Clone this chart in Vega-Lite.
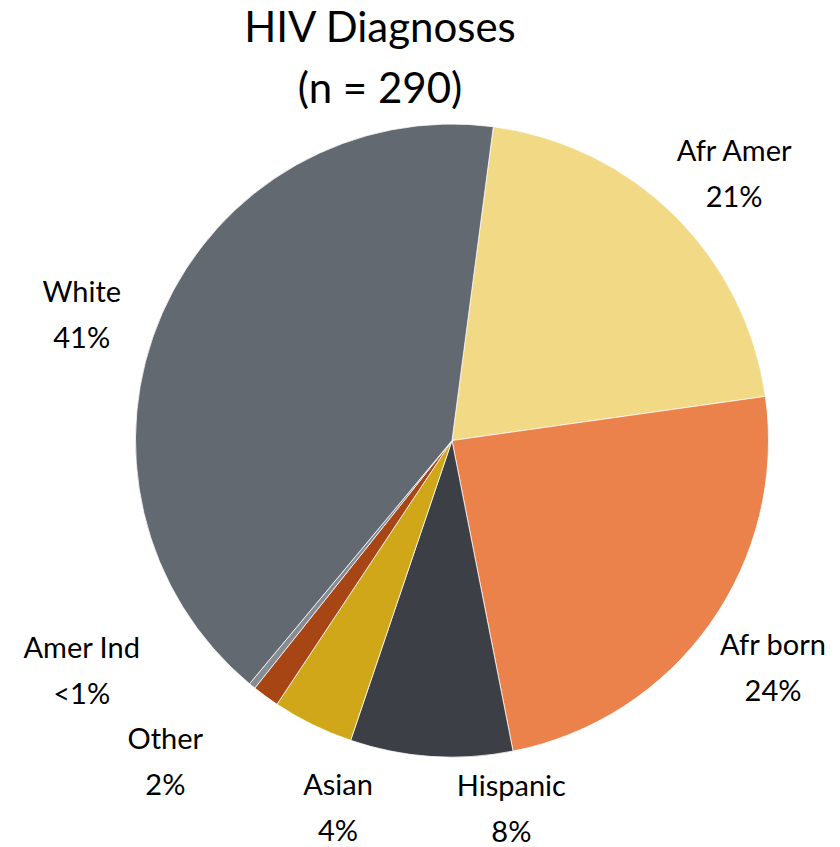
{
  "$schema": "https://vega.github.io/schema/vega-lite/v6.json",
  "autosize": "none",
  "width": 776,
  "height": 633,
  "padding": {"left": 64, "top": 124, "right": 0, "bottom": 90},
  "background": "#ffffff",
  "config": {"view": {"stroke": null}},
  "title": {
    "text": ["HIV Diagnoses", "(n = 290)"],
    "font": "Lato",
    "fontSize": 42,
    "fontWeight": "normal",
    "lineHeight": 61,
    "color": "#000000",
    "anchor": "middle",
    "dx": -72,
    "dy": 129
  },
  "data": {
    "values": [
      {"cat": "Afr Amer", "n": 60, "pct": "21%", "idx": 1},
      {"cat": "Afr born", "n": 70, "pct": "24%", "idx": 2},
      {"cat": "Hispanic", "n": 24, "pct": "8%", "idx": 3},
      {"cat": "Asian", "n": 12, "pct": "4%", "idx": 4},
      {"cat": "Other", "n": 4, "pct": "2%", "idx": 5},
      {"cat": "Amer Ind", "n": 1, "pct": "<1%", "idx": 6},
      {"cat": "White", "n": 119, "pct": "41%", "idx": 7}
    ]
  },
  "transform": [{"calculate": "datum.cat + '\\n' + datum.pct", "as": "label"}],
  "encoding": {
    "theta": {"field": "n", "type": "quantitative", "stack": true, "scale": {"range": [0.1309, 6.4141]}},
    "order": {"field": "idx", "type": "quantitative"}
  },
  "layer": [
    {
      "mark": {"type": "arc", "stroke": "#ffffff", "strokeWidth": 0.75},
      "encoding": {
        "color": {
          "field": "cat", "type": "nominal", "legend": null,
          "scale": {
            "domain": ["Afr Amer", "Afr born", "Hispanic", "Asian", "Other", "Amer Ind", "White"],
            "range": ["#F2D985", "#EC824B", "#3C3F45", "#CFA718", "#A84515", "#858C94", "#636970"]
          }
        }
      }
    },
    {
      "mark": {"type": "text", "radius": 388, "dx": 9, "dy": -13, "font": "Lato", "fontSize": 29, "lineHeight": 46, "lineBreak": "\n", "align": "center", "baseline": "middle", "color": "#000000"},
      "encoding": {"text": {"condition": {"test": "datum.cat === 'Afr Amer'", "field": "label"}, "value": ""}}
    },
    {
      "mark": {"type": "text", "radius": 394, "dx": 0, "dy": -23, "font": "Lato", "fontSize": 29, "lineHeight": 46, "lineBreak": "\n", "align": "center", "baseline": "middle", "color": "#000000"},
      "encoding": {"text": {"condition": {"test": "datum.cat === 'Afr born'", "field": "label"}, "value": ""}}
    },
    {
      "mark": {"type": "text", "radius": 374, "dx": 84, "dy": -27, "font": "Lato", "fontSize": 29, "lineHeight": 46, "lineBreak": "\n", "align": "center", "baseline": "middle", "color": "#000000"},
      "encoding": {"text": {"condition": {"test": "datum.cat === 'Hispanic'", "field": "label"}, "value": ""}}
    },
    {
      "mark": {"type": "text", "radius": 386, "dx": 56, "dy": -1, "font": "Lato", "fontSize": 29, "lineHeight": 46, "lineBreak": "\n", "align": "center", "baseline": "middle", "color": "#000000"},
      "encoding": {"text": {"condition": {"test": "datum.cat === 'Asian'", "field": "label"}, "value": ""}}
    },
    {
      "mark": {"type": "text", "radius": 431, "dx": -33, "dy": -49, "font": "Lato", "fontSize": 29, "lineHeight": 46, "lineBreak": "\n", "align": "center", "baseline": "middle", "color": "#000000"},
      "encoding": {"text": {"condition": {"test": "datum.cat === 'Other'", "field": "label"}, "value": ""}}
    },
    {
      "mark": {"type": "text", "radius": 436, "dx": -95, "dy": -130, "font": "Lato", "fontSize": 29, "lineHeight": 46, "lineBreak": "\n", "align": "center", "baseline": "middle", "color": "#000000"},
      "encoding": {"text": {"condition": {"test": "datum.cat === 'Amer Ind'", "field": "label"}, "value": ""}}
    },
    {
      "mark": {"type": "text", "radius": 390, "dx": -13, "dy": 9, "font": "Lato", "fontSize": 29, "lineHeight": 46, "lineBreak": "\n", "align": "center", "baseline": "middle", "color": "#000000"},
      "encoding": {"text": {"condition": {"test": "datum.cat === 'White'", "field": "label"}, "value": ""}}
    }
  ]
}
